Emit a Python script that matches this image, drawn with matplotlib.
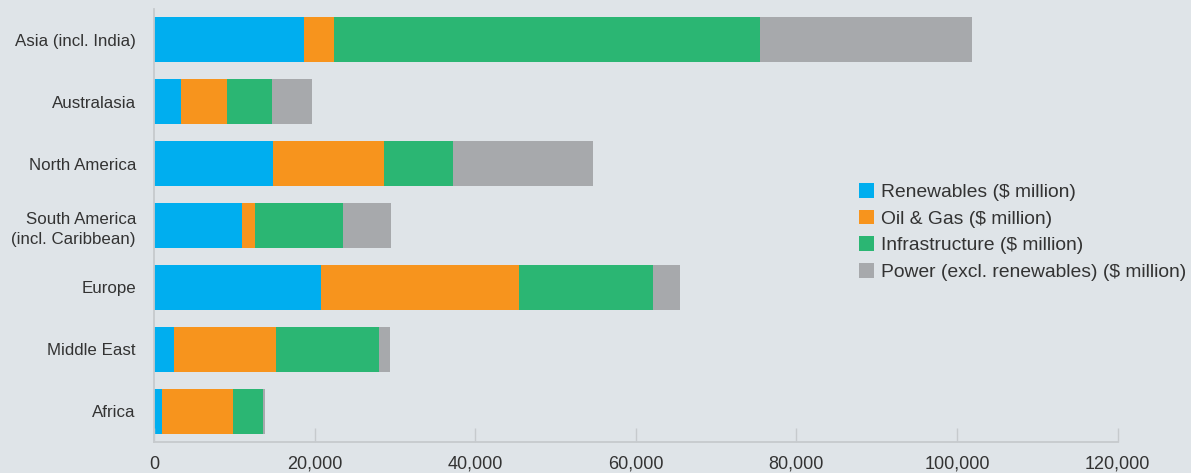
import numpy as np
import matplotlib.pyplot as plt

plt.rcParams['font.family'] = ['Liberation Sans', 'DejaVu Sans']

regions = ["Asia (incl. India)", "Australasia", "North America",
           "South America\n(incl. Caribbean)", "Europe", "Middle East", "Africa"]
renewables = np.array([18700, 3400, 14800, 10900, 20800, 2500, 1000])
oil_gas = np.array([3700, 5700, 13800, 1700, 24700, 12700, 8800])
infrastructure = np.array([53100, 5600, 8600, 10900, 16600, 12800, 3800])
power = np.array([26400, 5000, 17500, 6000, 3400, 1400, 200])

series = [
    ("Renewables ($ million)", renewables, "#00AEEF"),
    ("Oil & Gas ($ million)", oil_gas, "#F7941D"),
    ("Infrastructure ($ million)", infrastructure, "#2BB673"),
    ("Power (excl. renewables) ($ million)", power, "#A7A9AC"),
]

bg = "#dfe4e8"
txt = "#333333"
axc = "#c6cacd"

fig = plt.figure(figsize=(11.91, 4.73), dpi=100, facecolor=bg)
ax = fig.add_axes([154/1191, 1-442/473, (1117.5-154)/1191, (442-9)/473])
ax.set_facecolor(bg)

y = np.arange(len(regions))[::-1]
left = np.zeros(len(regions))
for name, vals, col in series:
    ax.barh(y, vals, left=left, height=0.726, color=col, label=name, linewidth=0)
    left = left + vals

ax.set_xlim(0, 120000)
ax.set_ylim(-0.5, 6.5)
ax.set_yticks(y)
ax.set_yticklabels(regions, fontsize=12.2, color=txt, linespacing=1.4)
ax.set_xticks(np.arange(0, 120001, 20000))
ax.set_xticklabels([f"{v:,}" for v in range(0, 120001, 20000)], fontsize=13, color=txt)
ax.tick_params(axis='x', direction='in', length=10, width=1, color=axc, pad=10)
ax.tick_params(axis='y', length=0, pad=13)
for s in ['top', 'right']:
    ax.spines[s].set_visible(False)
for s in ['left', 'bottom']:
    ax.spines[s].set_color(axc)
    ax.spines[s].set_linewidth(1.3)

leg = ax.legend(loc='center left', bbox_to_anchor=(859/1191, 1-232/473),
                bbox_transform=fig.transFigure, frameon=False, fontsize=13.9,
                handlelength=0.8, handleheight=0.8, handletextpad=0.35,
                labelspacing=0.45, borderpad=0, borderaxespad=0)
for t in leg.get_texts():
    t.set_color(txt)

fig.savefig("out.png", dpi=100, facecolor=bg)
